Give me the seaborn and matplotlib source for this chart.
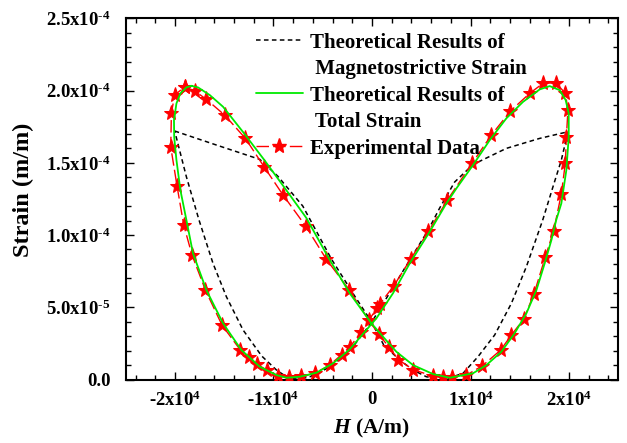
import numpy as np
import pandas as pd
import matplotlib
matplotlib.use("Agg")
import matplotlib.pyplot as plt
from matplotlib.lines import Line2D
from matplotlib.ticker import AutoMinorLocator
import seaborn as sns

# Theoretical magnetostrictive strain loop: H (A/m), strain (x1e-4 m/m)
H_magneto = [-20030, -15790, -11400, -9570, -7030, -4120, -1960, -60, 1190, 2810,
             4160, 5520, 7380, 9240, 10760, 12450, 14150, 15670, 17330, 18370,
             19220, 19890, 17020, 13640, 10250, 8390, 6870, 5680, 3830, 1970,
             -60, -1930, -3790, -5140, -6320, -7540, -8690, -9700, -11200, -13090,
             -14780, -16140, -17560, -18840]
S_magneto = [1.720, 1.623, 1.524, 1.408, 1.201, 0.834, 0.599, 0.400, 0.239, 0.135,
             0.066, 0.019, 0.000, 0.043, 0.158, 0.308, 0.527, 0.781, 1.104, 1.334,
             1.519, 1.715, 1.669, 1.600, 1.488, 1.367, 1.187, 1.031, 0.827, 0.619,
             0.394, 0.227, 0.112, 0.054, 0.019, 0.000, 0.019, 0.066, 0.163, 0.343,
             0.573, 0.804, 1.104, 1.403]

# Theoretical total strain loop
H_total = [-18330, -17660, -16470, -15120, -13090, -10960, -9030, -6660, -4400, -2260,
           -60, 1120, 2480, 4160, 6190, 7890, 10250, 11610, 13130, 14480,
           15670, 16690, 17530, 18210, 18700, 19220, 19730, 19970, 19970, 19660,
           19050, 18040, 17020, 15330, 13640, 11950, 10250, 8570, 7550, 5860,
           3830, 2130, 450, -570, -2260, -3960, -5640, -7340, -8690, -9700,
           -11400, -13260, -15120, -16810, -18170, -18840, -19450, -19850, -20080, -20100,
           -19850, -19450, -18840]
S_total = [2.033, 2.022, 1.969, 1.888, 1.713, 1.522, 1.342, 1.118, 0.841, 0.597,
           0.389, 0.296, 0.192, 0.100, 0.038, 0.012, 0.043, 0.100, 0.192, 0.320,
           0.458, 0.619, 0.804, 0.965, 1.104, 1.219, 1.450, 1.680, 1.842, 1.934,
           2.003, 2.031, 2.008, 1.922, 1.808, 1.657, 1.484, 1.323, 1.219, 1.023,
           0.804, 0.597, 0.424, 0.343, 0.209, 0.112, 0.047, 0.019, 0.012, 0.031,
           0.089, 0.204, 0.389, 0.619, 0.873, 1.104, 1.311, 1.519, 1.680, 1.796,
           1.911, 1.981, 2.022]

# Measured strain loop
H_exp = [-19010, -18000, -16810, -14950, -12850, -10960, -9030, -6730, -4630, -2340,
         -340, 680, 1730, 2680, 4160, 6160, 7180, 8090, 9510, 11210,
         13060, 14150, 15400, 16440, 17600, 18440, 19220, 19630, 19730, 19890,
         19630, 18650, 17360, 16010, 14050, 12120, 10150, 7650, 5730, 3930,
         2230, 830, 530, -1080, -2210, -3080, -4290, -5820, -7170, -8400,
         -9540, -10690, -11630, -12490, -13360, -15230, -16910, -18270, -19110, -19790,
         -20430, -20360, -20030]
S_exp = [2.026, 1.998, 1.939, 1.830, 1.669, 1.473, 1.277, 1.062, 0.832, 0.623,
         0.412, 0.315, 0.223, 0.138, 0.069, 0.024, 0.014, 0.017, 0.028, 0.095,
         0.204, 0.308, 0.419, 0.592, 0.850, 1.030, 1.284, 1.500, 1.680, 1.865,
         1.981, 2.054, 2.050, 1.981, 1.858, 1.692, 1.496, 1.242, 1.026, 0.835,
         0.650, 0.526, 0.498, 0.331, 0.228, 0.173, 0.100, 0.043, 0.021, 0.014,
         0.026, 0.066, 0.104, 0.154, 0.204, 0.377, 0.619, 0.862, 1.069, 1.339,
         1.611, 1.846, 1.969]

x_ticks = [-2e4, -1e4, 0, 1e4, 2e4]
x_tick_labels = ['-2x10$^{4}$', '-1x10$^{4}$', '0', '1x10$^{4}$', '2x10$^{4}$']
y_ticks = [0, 0.5e-4, 1.0e-4, 1.5e-4, 2.0e-4, 2.5e-4]
y_tick_labels = ['0.0', r'5.0x10$^{\text{-5}}$', r'1.0x10$^{\text{-4}}$',
                 r'1.5x10$^{\text{-4}}$', r'2.0x10$^{\text{-4}}$', r'2.5x10$^{\text{-4}}$']

legend_labels = ['Theoretical Results of', ' Magnetostrictive Strain',
                 'Theoretical Results of', ' Total Strain', 'Experimental Data']

GREEN = '#00ea00'
RED = '#ff0000'
DASH_BLACK = (0, (3, 2.2))
DASH_RED = (0, (9, 3))

sns.set_style('ticks')
plt.rcParams.update({
    'font.family': ['Liberation Serif', 'DejaVu Serif'],
    'font.weight': 'bold',
    'axes.labelweight': 'bold',
    'mathtext.fontset': 'custom',
    'mathtext.rm': 'Liberation Serif:bold',
    'mathtext.bf': 'Liberation Serif:bold',
    'mathtext.it': 'Liberation Serif:bold:italic',
    'mathtext.sf': 'Liberation Serif:bold',
    'axes.edgecolor': 'black',
    'xtick.color': 'black',
    'ytick.color': 'black',
    'text.color': 'black',
    'axes.labelcolor': 'black',
})


def loop_frame(h, s):
    """Closed loop table: repeat the first sample at the end."""
    h_closed = list(h) + [h[0]]
    s_closed = list(s) + [s[0]]
    return pd.DataFrame({'H': h_closed, 'Strain': np.array(s_closed) * 1e-4})


fig = plt.figure(figsize=(6.27, 4.43), dpi=100)
ax = fig.add_axes([0.2005, 0.1433, 0.7856, 0.8153])

sns.lineplot(data=loop_frame(H_magneto, S_magneto), x='H', y='Strain', sort=False,
             estimator=None, ax=ax, color='black', linewidth=1.1,
             linestyle=DASH_BLACK, legend=False, zorder=2)
sns.lineplot(data=loop_frame(H_exp, S_exp), x='H', y='Strain', sort=False,
             estimator=None, ax=ax, color=RED, linewidth=1.0, linestyle=DASH_RED,
             marker='*', markersize=11, markeredgecolor=RED, markerfacecolor=RED,
             legend=False, zorder=3)
sns.lineplot(data=loop_frame(H_total, S_total), x='H', y='Strain', sort=False,
             estimator=None, ax=ax, color=GREEN, linewidth=1.3, legend=False, zorder=4)

ax.set_xlim(-2.5e4, 2.5e4)
ax.set_ylim(0, 2.5e-4)
ax.set_xticks(x_ticks, x_tick_labels)
ax.set_yticks(y_ticks, y_tick_labels)
ax.xaxis.set_minor_locator(AutoMinorLocator(5))
ax.yaxis.set_minor_locator(AutoMinorLocator(5))
ax.tick_params(which='both', direction='in', top=True, right=True, width=1.0)
ax.tick_params(which='major', length=6, labelsize=13.5)
ax.tick_params(axis='x', which='major', pad=8)
ax.tick_params(axis='y', which='major', pad=11)
ax.tick_params(which='minor', length=3.5)
for side in ax.spines.values():
    side.set_linewidth(1.5)
    side.set_color('black')

ax.set_xlabel('$H$ (A/m)', fontsize=15.5, fontweight='bold')
ax.set_ylabel('Strain (m/m)', fontsize=17.5, fontweight='bold')
ax.xaxis.set_label_coords(0.5, -0.105)
ax.yaxis.set_label_coords(-0.186, 0.525)

blank = Line2D([], [], color='none')
handles = [
    Line2D([], [], color='black', linewidth=1.1, linestyle=DASH_BLACK),
    blank,
    Line2D([], [], color=GREEN, linewidth=1.3),
    blank,
    Line2D([], [], color=RED, linewidth=1.0, linestyle=DASH_RED, marker='*',
           markersize=11, markeredgecolor=RED, markerfacecolor=RED),
]
ax.legend(handles, legend_labels, loc='upper left', bbox_to_anchor=(0.2635, 0.96),
          frameon=False, borderpad=0, borderaxespad=0, handlelength=2.28,
          handletextpad=0.34, labelspacing=0.31, numpoints=1,
          prop={'family': 'Liberation Serif', 'weight': 'bold', 'size': 15})

fig.savefig('out.png', dpi=100)
